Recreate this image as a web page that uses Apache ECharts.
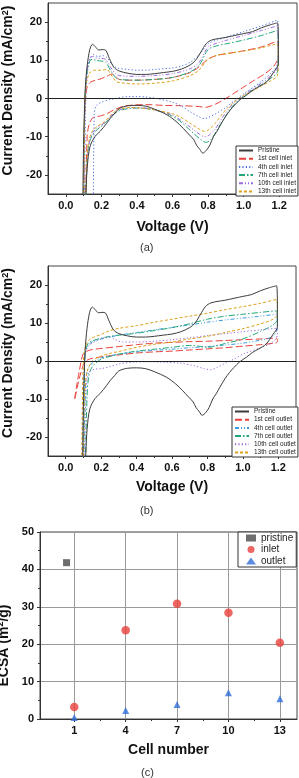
<!DOCTYPE html>
<html><head><meta charset="utf-8">
<script src="https://cdn.jsdelivr.net/npm/echarts@6/dist/echarts.min.js"></script>
<style>html,body{margin:0;padding:0;background:#fff}#c{width:299px;height:778px}</style>
</head><body><div id="c"></div>
<script>
// ---------- Panel (a): CV curves, inlet cells ----------
const pristineCV = [[0.095,-30],[0.1,-12],[0.105,-3],[0.11,3],[0.12,8.5],[0.135,12.8],[0.15,14.2],[0.165,13.6],[0.185,12.7],[0.205,12.8],[0.225,12.6],[0.245,10.5],[0.27,8.2],[0.3,7.2],[0.35,6.6],[0.4,6.3],[0.45,6.3],[0.5,6.5],[0.55,6.8],[0.6,7.1],[0.65,7.7],[0.7,8.8],[0.73,10],[0.76,12.2],[0.79,14.4],[0.82,15.3],[0.86,15.7],[0.9,16],[0.95,16.5],[1.0,17],[1.05,17.5],[1.1,18.5],[1.15,19.3],[1.19,19.8],[1.195,14],[1.195,9],
  [1.17,7],[1.13,4.4],[1.09,3.2],[1.056,2.3],[1.02,1],[0.98,-0.3],[0.95,-1.7],[0.925,-3],[0.9,-4.6],[0.87,-6.9],[0.85,-8.6],[0.83,-10],[0.81,-12.2],[0.79,-13.6],[0.77,-14.3],[0.755,-13.4],[0.735,-12.2],[0.72,-10.8],[0.69,-9.3],[0.66,-7.8],[0.62,-6],[0.57,-4.3],[0.5,-2.8],[0.45,-2],[0.4,-1.8],[0.35,-1.9],[0.3,-2.6],[0.277,-3.8],[0.25,-5.2],[0.23,-6.5],[0.193,-8.6],[0.165,-9.9],[0.136,-12.6],[0.121,-17.8],[0.114,-24],[0.11,-30]];
const inlet1CV = [[0.1,-30],[0.105,-8],[0.11,-1],[0.12,3],[0.14,4.3],[0.17,4.8],[0.2,5.2],[0.23,5.8],[0.26,6.4],[0.28,5.8],[0.3,5],[0.35,4.8],[0.4,4.8],[0.5,5],[0.6,5.5],[0.7,6.8],[0.75,8.3],[0.8,10.3],[0.85,11.3],[0.9,11.7],[1.0,12.5],[1.1,13.5],[1.19,15],[1.195,11],
  [1.17,8.5],[1.12,6.5],[1.05,4.5],[1.0,3],[0.95,1.5],[0.9,0],[0.85,-1.3],[0.8,-2.2],[0.78,-2.3],[0.75,-2.1],[0.65,-1.9],[0.55,-1.8],[0.45,-1.6],[0.38,-1.7],[0.32,-2.1],[0.27,-3],[0.23,-4],[0.2,-4.5],[0.17,-4.8],[0.15,-5.1],[0.13,-7],[0.12,-10],[0.11,-30]];
const inlet4CV = [[0.105,-30],[0.11,-5],[0.115,3],[0.125,8],[0.14,10.8],[0.155,11.5],[0.18,11],[0.21,11.2],[0.23,10.8],[0.26,9],[0.29,8],[0.35,7.6],[0.4,7.4],[0.45,7.4],[0.5,7.6],[0.6,8],[0.65,8.5],[0.7,9.5],[0.75,11.5],[0.8,14.3],[0.85,15.3],[0.9,16],[1.0,17.5],[1.1,19],[1.19,20.5],[1.195,14],[1.19,9],
  [1.15,6.5],[1.1,4.5],[1.05,2.8],[1.0,1.2],[0.95,-0.5],[0.9,-2.3],[0.85,-3.8],[0.8,-5],[0.78,-5.3],[0.75,-4.8],[0.7,-3.5],[0.65,-2],[0.6,-1],[0.5,0.1],[0.45,0.4],[0.4,0.5],[0.35,0.5],[0.3,0.2],[0.25,-0.3],[0.2,-1],[0.17,-2],[0.16,-4],[0.155,-30]];
const inlet7CV = [[0.1,-30],[0.105,-5],[0.11,2],[0.12,7],[0.135,9.8],[0.15,10.3],[0.17,10],[0.2,9.8],[0.225,9.5],[0.25,7.5],[0.28,5.5],[0.3,5],[0.4,4.8],[0.5,5],[0.6,5.5],[0.7,7],[0.75,8.7],[0.8,12.8],[0.85,13.8],[0.9,14.3],[1.0,15.3],[1.1,16.5],[1.19,17.8],[1.195,12],[1.19,7],
  [1.15,5.2],[1.1,3.6],[1.05,2.2],[1.0,0.6],[0.97,-0.5],[0.93,-2.5],[0.9,-4.5],[0.86,-7.5],[0.82,-10.5],[0.79,-11.5],[0.76,-10.8],[0.72,-9.2],[0.68,-7.5],[0.63,-5.5],[0.57,-4],[0.5,-3],[0.42,-2.5],[0.36,-2.6],[0.3,-3.2],[0.26,-4.5],[0.22,-6.5],[0.18,-8],[0.15,-9.5],[0.13,-12],[0.12,-16],[0.11,-30]];
const inlet10CV = [[0.1,-30],[0.105,-5],[0.11,2],[0.12,7.5],[0.135,10.5],[0.15,11],[0.17,10.6],[0.2,10.5],[0.225,10.2],[0.25,8.3],[0.28,6.5],[0.3,6],[0.4,5.8],[0.5,6],[0.6,6.5],[0.7,7.8],[0.75,9.5],[0.8,13.5],[0.85,14.5],[0.9,15.2],[1.0,16.5],[1.1,17.8],[1.19,19],[1.195,13],[1.19,8],
  [1.15,5.8],[1.1,4],[1.05,2.5],[1.0,0.9],[0.96,-0.5],[0.92,-2.5],[0.88,-5],[0.84,-8],[0.8,-9.8],[0.78,-10],[0.75,-9.3],[0.7,-7.5],[0.65,-5.8],[0.6,-4.3],[0.5,-3],[0.42,-2.4],[0.36,-2.4],[0.3,-3],[0.26,-4.3],[0.22,-6.3],[0.18,-7.5],[0.15,-9],[0.13,-12],[0.12,-17],[0.11,-30]];
const inlet13CV = [[0.1,-30],[0.105,-5],[0.11,1],[0.12,5],[0.14,7],[0.16,7.4],[0.2,7.4],[0.23,7.6],[0.25,6.5],[0.28,4.6],[0.3,4.2],[0.4,3.8],[0.5,4],[0.6,4.6],[0.7,6],[0.75,7.5],[0.8,10.3],[0.85,11.3],[0.9,11.7],[1.0,12.4],[1.1,13.3],[1.19,14.3],[1.195,10],[1.19,6],
  [1.15,4.6],[1.1,3.3],[1.05,2],[1.0,0.8],[0.96,-0.4],[0.92,-2],[0.88,-4],[0.84,-6.5],[0.8,-8.3],[0.78,-8.6],[0.75,-8],[0.7,-6.5],[0.65,-5],[0.6,-4],[0.5,-3],[0.42,-2.5],[0.36,-2.4],[0.3,-2.8],[0.26,-4],[0.22,-6],[0.18,-7.2],[0.15,-8.5],[0.13,-11],[0.12,-16],[0.11,-30]];

// ---------- Panel (b): CV curves, outlet cells ----------
const outlet1CV = [[0.05,-10],[0.06,-7],[0.075,-3],[0.09,0.5],[0.1,2],[0.12,2.6],[0.15,3],[0.2,3.3],[0.3,3.8],[0.4,4.3],[0.5,4.7],[0.6,4.9],[0.7,5.1],[0.8,5.2],[0.9,5.4],[1.0,5.6],[1.1,5.8],[1.19,6],[1.195,5.2],
  [1.19,4.8],[1.1,4.3],[1.0,3.9],[0.9,3.5],[0.8,3.2],[0.7,2.9],[0.6,2.6],[0.5,2.4],[0.4,2.1],[0.3,1.6],[0.2,1.1],[0.15,0.7],[0.12,0.2],[0.1,-1],[0.08,-4],[0.065,-7],[0.052,-10]];
const outlet4CV = [[0.095,-30],[0.1,-10],[0.105,-2],[0.11,2],[0.125,4],[0.15,5],[0.2,5.8],[0.25,6.3],[0.3,6.8],[0.4,7.5],[0.5,8.2],[0.6,8.8],[0.7,9.5],[0.8,10.2],[0.9,10.8],[1.0,11.3],[1.1,11.8],[1.19,12.3],[1.195,9],
  [1.17,6.5],[1.1,5.5],[1.0,4.7],[0.9,4.2],[0.8,3.8],[0.7,3.5],[0.6,3.1],[0.5,2.8],[0.4,2.4],[0.3,1.8],[0.2,0.8],[0.15,-0.5],[0.12,-3],[0.11,-10],[0.1,-30]];
const outlet7CV = [[0.1,-30],[0.105,-5],[0.11,2],[0.125,4.5],[0.15,5.3],[0.2,6],[0.25,6.5],[0.3,6.8],[0.4,7.3],[0.5,8],[0.6,8.8],[0.7,9.8],[0.8,11],[0.9,11.8],[1.0,12.3],[1.1,12.8],[1.19,13.2],[1.195,11],
  [1.17,9.5],[1.1,7.8],[1.0,5.8],[0.9,4.6],[0.8,3.6],[0.75,3.9],[0.7,4.1],[0.6,3.6],[0.5,3.1],[0.4,2.6],[0.3,1.8],[0.25,1.2],[0.2,0.5],[0.15,-1.5],[0.13,-4],[0.12,-10],[0.11,-30]];
const outlet10CV = [[0.095,-30],[0.1,-8],[0.105,-1],[0.11,2],[0.13,4],[0.16,5],[0.2,5.8],[0.25,6.3],[0.28,5.6],[0.32,5],[0.4,5],[0.5,5.2],[0.6,5.6],[0.7,6.1],[0.8,6.7],[0.9,7.2],[1.0,7.7],[1.1,8.2],[1.19,8.6],[1.195,7],
  [1.17,5],[1.1,3.5],[1.0,1.8],[0.95,0.5],[0.9,-0.6],[0.85,-1.8],[0.82,-2.3],[0.78,-2],[0.72,-1.2],[0.65,-0.6],[0.55,-0.3],[0.45,-0.2],[0.38,-0.3],[0.3,-0.8],[0.25,-1.5],[0.2,-2],[0.16,-2.2],[0.13,-3],[0.115,-8],[0.105,-30]];
const outlet13CV = [[0.09,-30],[0.095,-8],[0.1,0],[0.11,3.5],[0.13,5.5],[0.16,6.3],[0.2,7],[0.25,8],[0.3,8.6],[0.4,9.3],[0.5,10.2],[0.6,11],[0.7,11.8],[0.8,12.6],[0.9,13.5],[1.0,14.3],[1.1,15.2],[1.19,16.2],[1.195,12.5],
  [1.17,11],[1.1,9.8],[1.0,8.5],[0.9,7.5],[0.8,6.5],[0.7,5.8],[0.6,5],[0.5,4.4],[0.4,3.6],[0.3,2.5],[0.25,2],[0.2,1.3],[0.15,0],[0.12,-3],[0.105,-10],[0.1,-30]];

// ---------- Panel (c): ECSA ----------
const cellNumbers = [1, 4, 7, 10, 13];
const inletECSA = [3.2, 23.7, 30.8, 28.4, 20.4];
const outletECSA = [0.4, 2.3, 3.9, 7.0, 5.4];
const pristineECSA = [[0.55, 41.8]];

// tick labels
const voltTicks = [0, 0.2, 0.4, 0.6, 0.8, 1.0, 1.2];
const voltMinor = [0.1, 0.3, 0.5, 0.7, 0.9, 1.1];
const cdTicks = [-20, -10, 0, 10, 20];
const cdMinor = [-15, -5, 5, 15];
const cellMinor = [2.5, 5.5, 8.5, 11.5];

const namesA = ['Pristine','1st cell inlet','4th cell inlet','7th cell inlet','10th cell inlet','13th cell inlet'];
const namesB = ['Pristine','1st cell outlet','4th cell outlet','7th cell outlet','10th cell outlet','13th cell outlet'];

const FONT = 'Liberation Sans, Arial, sans-serif';
const AX = '#333';
const col = {pristine:'#3c3c3c', red:'#e8403a', blue:'#4a6ee8', lblue:'#3b9ae0', green:'#23a77a', purple:'#9a6be0', orange:'#dca21e'};
const dash = {solid:'solid', red:[7,3], dot:[1.2,2.2], dashdot:[6,2,1.5,2], dashdotdot:[4,2,1,2,1,2], short:[3,2]};

function cvX(gridIndex){
  return [{
    gridIndex, type:'value', min:-0.1, max:1.3, position:'bottom',
    name: 'Voltage (V)', nameLocation:'middle', nameGap: gridIndex===0?26:24,
    nameTextStyle:{fontSize:14, fontWeight:'bold', color:'#111', fontFamily:FONT},
    axisLine:{show:true, onZero:false, lineStyle:{color:AX}},
    axisTick:{show:true, customValues:voltTicks, length:3, lineStyle:{color:AX}},
    axisLabel:{customValues:voltTicks, fontSize:11, fontWeight:'bold', color:'#111', fontFamily:FONT, margin:6, formatter:v=>Number(v).toFixed(1)},
    splitLine:{show:false}
  },{
    gridIndex, type:'value', min:-0.1, max:1.3, position:'bottom', offset:0,
    axisLine:{show:false, onZero:false}, axisLabel:{show:false}, splitLine:{show:false},
    axisTick:{show:true, customValues:voltMinor, length:2, lineStyle:{color:AX}}
  }];
}
function cvY(gridIndex){
  return [{
    gridIndex, type:'value', min:-25, max:25, position:'left',
    name:'{b|Current Density (mA/cm}{s|2}{b|)}', nameLocation:'middle', nameGap:31, nameRotate:90,
    nameTextStyle:{padding:[0,0,0,16], rich:{b:{fontSize:14, fontWeight:'bold', color:'#111', fontFamily:FONT}, s:{fontSize:9, fontWeight:'bold', color:'#111', fontFamily:FONT, verticalAlign:'top', padding:[0,0,6,0]}}},
    axisLine:{show:true, onZero:false, lineStyle:{color:AX}},
    axisTick:{show:true, customValues:cdTicks, length:3, lineStyle:{color:AX}},
    axisLabel:{customValues:cdTicks, fontSize:11, fontWeight:'bold', color:'#111', fontFamily:FONT, margin:6},
    splitLine:{show:false}
  },{
    gridIndex, type:'value', min:-25, max:25, position:'left', offset:0,
    axisLine:{show:false, onZero:false}, axisLabel:{show:false}, splitLine:{show:false},
    axisTick:{show:true, customValues:cdMinor, length:2, lineStyle:{color:AX}}
  }];
}

function line(name, data, xi, yi, color, type, extra){
  return Object.assign({
    name, type:'line', data, xAxisIndex:xi, yAxisIndex:yi, symbol:'none', showSymbol:false,
    smooth:0.3, clip:true, silent:true, animation:false,
    lineStyle:{color, width:1, type}, itemStyle:{color}
  }, extra||{});
}
const zeroLine = {silent:true, symbol:'none', label:{show:false}, lineStyle:{color:'#222', width:1, type:'solid'}, data:[{yAxis:0}]};

const legendBase = {orient:'vertical', itemGap:1.2, itemWidth:14, itemHeight:6, borderColor:'#333', borderWidth:1, padding:[1,2,1,2], backgroundColor:'#fff',
  itemStyle:{opacity:0}, textStyle:{fontSize:6.5, color:'#222', fontFamily:FONT}, selectedMode:false};

const option = {
  animation:false,
  title:[
    {text:'(a)', left:140, top:242, padding:0, textStyle:{fontSize:11, fontWeight:'normal', color:'#333', fontFamily:FONT}},
    {text:'(b)', left:140, top:505, padding:0, textStyle:{fontSize:11, fontWeight:'normal', color:'#333', fontFamily:FONT}},
    {text:'(c)', left:141, top:767, padding:0, textStyle:{fontSize:11, fontWeight:'normal', color:'#333', fontFamily:FONT}}
  ],
  grid:[
    {left:48, top:3, width:249, height:191, show:true, borderColor:'#444', borderWidth:1, backgroundColor:'transparent', outerBoundsMode:'none', containLabel:false},
    {left:48, top:266, width:248, height:190, show:true, borderColor:'#444', borderWidth:1, backgroundColor:'transparent', outerBoundsMode:'none', containLabel:false},
    {left:40, top:532, width:257, height:187, show:true, borderColor:'#444', borderWidth:1, backgroundColor:'transparent', outerBoundsMode:'none', containLabel:false}
  ],
  legend:[
    Object.assign({}, legendBase, {data:namesA, left:236, top:146}),
    Object.assign({}, legendBase, {data:namesB, left:232, top:407}),
    {data:['pristine','inlet','outlet'], orient:'vertical', left:238, top:532, itemGap:1.5, itemWidth:10, itemHeight:7,
     borderColor:'#333', borderWidth:1, padding:[1,3,1,8], backgroundColor:'#fff', selectedMode:false,
     textStyle:{fontSize:10, color:'#222', fontFamily:FONT}}
  ],
  xAxis:[
    ...cvX(0), ...cvX(1),
    {gridIndex:2, type:'value', min:-1, max:14, position:'bottom',
     name:'Cell number', nameLocation:'middle', nameGap:24,
     nameTextStyle:{fontSize:14, fontWeight:'bold', color:'#111', fontFamily:FONT},
     axisLine:{show:true, onZero:false, lineStyle:{color:AX}},
     axisTick:{show:true, customValues:cellNumbers, length:3, lineStyle:{color:AX}},
     axisLabel:{customValues:cellNumbers, fontSize:11, fontWeight:'bold', color:'#111', fontFamily:FONT, margin:6},
     splitLine:{show:true, lineStyle:{color:'#9a9a9a', width:1}}},
    {gridIndex:2, type:'value', min:-1, max:14, position:'bottom', offset:0, axisLine:{show:false, onZero:false}, axisLabel:{show:false}, splitLine:{show:false},
     axisTick:{show:true, customValues:cellMinor, length:2, lineStyle:{color:AX}}}
  ],
  yAxis:[
    ...cvY(0), ...cvY(1),
    {gridIndex:2, type:'value', min:0, max:50, interval:10, position:'left',
     name:'{b|ECSA (m}{s|2}{b|/g)}', nameLocation:'middle', nameGap:21, nameRotate:90,
     nameTextStyle:{padding:[0,40,0,0], rich:{b:{fontSize:14, fontWeight:'bold', color:'#111', fontFamily:FONT}, s:{fontSize:9, fontWeight:'bold', color:'#111', fontFamily:FONT, verticalAlign:'top', padding:[0,0,6,0]}}},
     axisLine:{show:true, onZero:false, lineStyle:{color:AX}},
     axisTick:{show:true, length:3, lineStyle:{color:AX}},
     minorTick:{show:true, splitNumber:2, length:2, lineStyle:{color:AX}},
     axisLabel:{fontSize:11, fontWeight:'bold', color:'#111', fontFamily:FONT, margin:6},
     splitLine:{show:true, lineStyle:{color:'#9a9a9a', width:1}}}
  ],
  series:[
    line(namesA[0], pristineCV, 0, 0, col.pristine, dash.solid, {markLine:zeroLine, z:5}),
    line(namesA[1], inlet1CV, 0, 0, col.red, dash.red),
    line(namesA[2], inlet4CV, 0, 0, col.blue, dash.dot),
    line(namesA[3], inlet7CV, 0, 0, col.green, dash.dashdot),
    line(namesA[4], inlet10CV, 0, 0, col.purple, dash.dashdotdot),
    line(namesA[5], inlet13CV, 0, 0, col.orange, dash.short),

    line(namesB[0], pristineCV, 2, 2, col.pristine, dash.solid, {markLine:zeroLine, z:5}),
    line(namesB[1], outlet1CV, 2, 2, col.red, dash.red),
    line(namesB[2], outlet4CV, 2, 2, col.lblue, dash.dashdotdot),
    line(namesB[3], outlet7CV, 2, 2, col.green, dash.dashdot),
    line(namesB[4], outlet10CV, 2, 2, col.purple, dash.dot),
    line(namesB[5], outlet13CV, 2, 2, col.orange, dash.short),

    {name:'pristine', type:'scatter', xAxisIndex:4, yAxisIndex:4, data:pristineECSA, symbol:'rect', symbolSize:7, itemStyle:{color:'#4a4a4a'}, silent:true},
    {name:'inlet', type:'scatter', xAxisIndex:4, yAxisIndex:4, data:cellNumbers.map((c,i)=>[c, inletECSA[i]]), symbol:'circle', symbolSize:8.5, itemStyle:{color:'#e8403a'}, silent:true},
    {name:'outlet', type:'scatter', xAxisIndex:4, yAxisIndex:4, data:cellNumbers.map((c,i)=>[c, outletECSA[i]]), symbol:'triangle', symbolSize:7, itemStyle:{color:'#2f6fd8'}, silent:true, clip:false}
  ]
};
const chart = echarts.init(document.getElementById('c'), null, {renderer:'canvas'});
chart.setOption(option);
</script>
</body></html>
